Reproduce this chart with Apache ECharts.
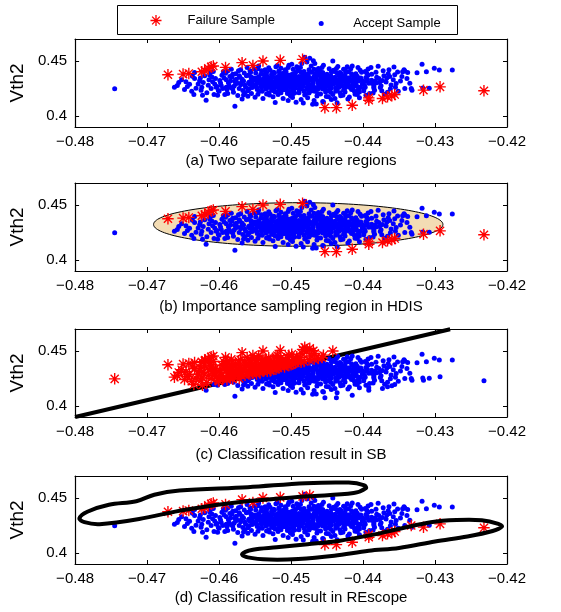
<!DOCTYPE html>
<html>
<head>
<meta charset="utf-8">
<script src="https://cdn.jsdelivr.net/npm/echarts@6/dist/echarts.min.js"></script>
<style>
html,body{margin:0;padding:0;background:#fff;}
#chart{width:561px;height:612px;}
</style>
</head>
<body>
<div id="chart"></div>
<script>
// ---------------- data ----------------
const panelTitles = [
  '(a) Two separate failure regions',
  '(b) Importance sampling region in HDIS',
  '(c) Classification result in SB',
  '(d) Classification result in REscope'
];
const yTickValues = [0.4, 0.45];
const xRange = [-0.48, -0.42];
const yRange = [0.39, 0.47];

const failureSamples = [
  [-0.4671,0.4375],[-0.4650,0.4381],[-0.4642,0.4387],[-0.4624,0.4402],[-0.4620,0.4412],
  [-0.4615,0.4433],[-0.4611,0.4448],[-0.4608,0.4454],[-0.4591,0.4442],[-0.4568,0.4485],
  [-0.4553,0.4460],[-0.4539,0.4500],[-0.4515,0.4506],[-0.4484,0.4515],
  [-0.4453,0.4076],[-0.4437,0.4076],[-0.4415,0.4098],[-0.4392,0.4143],[-0.4392,0.4165],
  [-0.4373,0.4159],[-0.4366,0.4174],[-0.4360,0.4183],[-0.4356,0.4195],[-0.4316,0.4235],
  [-0.4293,0.4265],[-0.4232,0.4229]
];

const acceptSamples = [
  [-0.4745,0.4247],
  [-0.4658,0.4277],[-0.4662,0.4262],[-0.4656,0.4305],
  [-0.4648,0.4241],[-0.4646,0.4311],[-0.4652,0.4330],[-0.4644,0.4268],
  [-0.4635,0.4195],[-0.4634,0.4341],[-0.4641,0.4288],[-0.4638,0.4225],[-0.4637,0.4362],
  [-0.4625,0.4235],[-0.4623,0.4189],[-0.4629,0.4290],[-0.4627,0.4320],[-0.4632,0.4252],[-0.4634,0.4395],[-0.4626,0.4345],
  [-0.4618,0.4143],[-0.4620,0.4365],[-0.4615,0.4280],[-0.4612,0.4395],[-0.4622,0.4305],[-0.4617,0.4212],[-0.4624,0.4262],[-0.4614,0.4330],[-0.4619,0.4418],
  [-0.4611,0.4250],[-0.4609,0.4311],[-0.4605,0.4340],[-0.4607,0.4195],[-0.4613,0.4372],[-0.4603,0.4268],[-0.4608,0.4405],[-0.4606,0.4290],[-0.4601,0.4232],[-0.4610,0.4355],
  [-0.4602,0.4189],[-0.4600,0.4225],[-0.4598,0.4300],[-0.4596,0.4370],[-0.4595,0.4250],[-0.4599,0.4322],[-0.4594,0.4405],[-0.4597,0.4278],[-0.4593,0.4345],[-0.4604,0.4262],[-0.4591,0.4388],
  [-0.4592,0.4195],[-0.4590,0.4330],[-0.4588,0.4410],[-0.4586,0.4275],[-0.4589,0.4238],[-0.4585,0.4358],[-0.4587,0.4302],[-0.4583,0.4425],[-0.4590,0.4262],[-0.4584,0.4318],[-0.4581,0.4380],[-0.4588,0.4205],
  [-0.4584,0.4259],[-0.4578,0.4088],[-0.4582,0.4355],[-0.4580,0.4215],[-0.4577,0.4385],[-0.4575,0.4300],[-0.4579,0.4272],[-0.4576,0.4335],[-0.4573,0.4412],[-0.4581,0.4245],[-0.4574,0.4186],[-0.4578,0.4318],[-0.4572,0.4365],[-0.4577,0.4290],
  [-0.4572,0.4250],[-0.4570,0.4420],[-0.4568,0.4335],[-0.4566,0.4190],[-0.4564,0.4280],[-0.4562,0.4365],[-0.4569,0.4305],[-0.4567,0.4232],[-0.4565,0.4392],[-0.4571,0.4352],[-0.4563,0.4262],[-0.4568,0.4155],[-0.4566,0.4318],[-0.4561,0.4440],[-0.4570,0.4285],[-0.4564,0.4212],
  [-0.4560,0.4230],[-0.4558,0.4310],[-0.4556,0.4400],[-0.4554,0.4260],[-0.4552,0.4345],[-0.4559,0.4372],[-0.4557,0.4288],[-0.4555,0.4205],[-0.4553,0.4325],[-0.4551,0.4430],[-0.4558,0.4248],[-0.4556,0.4358],[-0.4554,0.4298],[-0.4560,0.4180],[-0.4552,0.4272],[-0.4557,0.4412],[-0.4555,0.4338],[-0.4559,0.4302],
  [-0.4550,0.4170],[-0.4548,0.4290],[-0.4546,0.4430],[-0.4544,0.4225],[-0.4542,0.4380],[-0.4549,0.4325],[-0.4547,0.4255],[-0.4545,0.4355],[-0.4543,0.4302],[-0.4541,0.4412],[-0.4550,0.4270],[-0.4548,0.4345],[-0.4546,0.4198],[-0.4544,0.4318],[-0.4542,0.4282],[-0.4549,0.4392],[-0.4547,0.4240],[-0.4545,0.4455],[-0.4543,0.4335],[-0.4541,0.4262],
  [-0.4540,0.4320],[-0.4538,0.4270],[-0.4536,0.4410],[-0.4534,0.4200],[-0.4532,0.4350],[-0.4539,0.4295],[-0.4537,0.4372],[-0.4535,0.4245],[-0.4533,0.4315],[-0.4531,0.4438],[-0.4540,0.4225],[-0.4538,0.4340],[-0.4536,0.4285],[-0.4534,0.4395],[-0.4532,0.4258],[-0.4539,0.4160],[-0.4537,0.4328],[-0.4535,0.4305],[-0.4533,0.4362],[-0.4531,0.4212],[-0.4536,0.4420],[-0.4534,0.4275],
  [-0.4530,0.4300],[-0.4528,0.4345],[-0.4526,0.4232],[-0.4524,0.4398],[-0.4522,0.4122],[-0.4529,0.4275],[-0.4527,0.4380],[-0.4525,0.4312],[-0.4523,0.4255],[-0.4521,0.4448],[-0.4530,0.4190],[-0.4528,0.4325],[-0.4526,0.4362],[-0.4524,0.4288],[-0.4522,0.4218],[-0.4529,0.4415],[-0.4527,0.4242],[-0.4525,0.4352],[-0.4523,0.4298],[-0.4521,0.4335],[-0.4527,0.4268],[-0.4525,0.4175],[-0.4523,0.4392],[-0.4529,0.4318],
  [-0.4520,0.4305],[-0.4518,0.4258],[-0.4516,0.4372],[-0.4514,0.4212],[-0.4512,0.4340],[-0.4519,0.4288],[-0.4517,0.4410],[-0.4515,0.4322],[-0.4513,0.4245],[-0.4511,0.4385],[-0.4520,0.4352],[-0.4518,0.4195],[-0.4516,0.4298],[-0.4514,0.4435],[-0.4512,0.4272],[-0.4519,0.4330],[-0.4517,0.4228],[-0.4515,0.4362],[-0.4513,0.4312],[-0.4511,0.4160],[-0.4516,0.4395],[-0.4514,0.4282],[-0.4518,0.4345],[-0.4512,0.4238],[-0.4519,0.4458],[-0.4515,0.4265],
  [-0.4510,0.4315],[-0.4508,0.4248],[-0.4506,0.4378],[-0.4504,0.4290],[-0.4502,0.4222],[-0.4509,0.4355],[-0.4507,0.4405],[-0.4505,0.4268],[-0.4503,0.4335],[-0.4501,0.4185],[-0.4510,0.4390],[-0.4508,0.4302],[-0.4506,0.4232],[-0.4504,0.4442],[-0.4502,0.4325],[-0.4509,0.4275],[-0.4507,0.4345],[-0.4505,0.4205],[-0.4503,0.4368],[-0.4501,0.4258],[-0.4506,0.4312],[-0.4504,0.4142],[-0.4508,0.4420],[-0.4502,0.4285],[-0.4509,0.4240],[-0.4505,0.4330],[-0.4503,0.4462],
  [-0.4500,0.4298],[-0.4498,0.4352],[-0.4496,0.4245],[-0.4494,0.4392],[-0.4492,0.4318],[-0.4499,0.4272],[-0.4497,0.4425],[-0.4495,0.4210],[-0.4493,0.4340],[-0.4491,0.4285],[-0.4500,0.4375],[-0.4498,0.4168],[-0.4496,0.4305],[-0.4494,0.4255],[-0.4492,0.4448],[-0.4499,0.4328],[-0.4497,0.4232],[-0.4495,0.4362],[-0.4493,0.4292],[-0.4491,0.4408],[-0.4496,0.4268],[-0.4494,0.4312],[-0.4498,0.4195],[-0.4492,0.4345],[-0.4499,0.4470],[-0.4495,0.4282],[-0.4493,0.4125],[-0.4497,0.4385],
  [-0.4490,0.4332],[-0.4488,0.4262],[-0.4486,0.4398],[-0.4484,0.4305],[-0.4482,0.4225],[-0.4489,0.4358],[-0.4487,0.4440],[-0.4485,0.4280],[-0.4483,0.4345],[-0.4481,0.4190],[-0.4490,0.4415],[-0.4488,0.4318],[-0.4486,0.4248],[-0.4484,0.4375],[-0.4482,0.4295],[-0.4489,0.4212],[-0.4487,0.4338],[-0.4485,0.4478],[-0.4483,0.4268],[-0.4481,0.4362],[-0.4486,0.4150],[-0.4484,0.4325],[-0.4488,0.4290],[-0.4482,0.4405],[-0.4489,0.4240],[-0.4485,0.4312],[-0.4483,0.4118],[-0.4481,0.4534],
  [-0.4480,0.4310],[-0.4478,0.4255],[-0.4476,0.4385],[-0.4474,0.4524],[-0.4472,0.4228],[-0.4479,0.4348],[-0.4477,0.4292],[-0.4475,0.4420],[-0.4473,0.4270],[-0.4471,0.4335],[-0.4480,0.4198],[-0.4478,0.4368],[-0.4476,0.4318],[-0.4474,0.4245],[-0.4472,0.4455],[-0.4479,0.4302],[-0.4477,0.4165],[-0.4475,0.4352],[-0.4473,0.4282],[-0.4471,0.4398],[-0.4476,0.4235],[-0.4474,0.4328],[-0.4478,0.4492],[-0.4472,0.4262],[-0.4479,0.4375],[-0.4475,0.4210],[-0.4473,0.4342],[-0.4470,0.4107],
  [-0.4470,0.4298],[-0.4468,0.4362],[-0.4466,0.4242],[-0.4464,0.4410],[-0.4462,0.4315],[-0.4469,0.4268],[-0.4467,0.4478],[-0.4465,0.4335],[-0.4463,0.4205],[-0.4461,0.4380],[-0.4470,0.4288],[-0.4468,0.4140],[-0.4466,0.4345],[-0.4464,0.4258],[-0.4462,0.4432],[-0.4469,0.4322],[-0.4467,0.4225],[-0.4465,0.4392],[-0.4463,0.4302],[-0.4461,0.4278],[-0.4466,0.4355],[-0.4464,0.4182],[-0.4468,0.4425],[-0.4462,0.4248],[-0.4465,0.4110],[-0.4463,0.4368],[-0.4469,0.4502],
  [-0.4460,0.4325],[-0.4458,0.4262],[-0.4456,0.4395],[-0.4454,0.4300],[-0.4452,0.4218],[-0.4459,0.4358],[-0.4457,0.4440],[-0.4455,0.4282],[-0.4453,0.4340],[-0.4451,0.4178],[-0.4460,0.4412],[-0.4458,0.4312],[-0.4456,0.4245],[-0.4454,0.4375],[-0.4452,0.4292],[-0.4459,0.4200],[-0.4457,0.4335],[-0.4455,0.4462],[-0.4453,0.4268],[-0.4451,0.4352],[-0.4456,0.4132],[-0.4454,0.4320],[-0.4458,0.4385],[-0.4452,0.4238],[-0.4459,0.4278],[-0.4455,0.4128],
  [-0.4450,0.4305],[-0.4448,0.4358],[-0.4446,0.4240],[-0.4444,0.4402],[-0.4442,0.4322],[-0.4449,0.4270],[-0.4447,0.4430],[-0.4445,0.4215],[-0.4443,0.4345],[-0.4441,0.4288],[-0.4450,0.4380],[-0.4448,0.4175],[-0.4446,0.4312],[-0.4444,0.4255],[-0.4442,0.4500],[-0.4449,0.4335],[-0.4447,0.4230],[-0.4445,0.4368],[-0.4443,0.4298],[-0.4441,0.4415],[-0.4446,0.4262],[-0.4444,0.4150],[-0.4448,0.4325],[-0.4442,0.4195],[-0.4445,0.4282],
  [-0.4440,0.4318],[-0.4438,0.4255],[-0.4436,0.4390],[-0.4434,0.4295],[-0.4432,0.4212],[-0.4439,0.4352],[-0.4437,0.4432],[-0.4435,0.4275],[-0.4433,0.4338],[-0.4431,0.4185],[-0.4440,0.4405],[-0.4438,0.4305],[-0.4436,0.4238],[-0.4434,0.4372],[-0.4432,0.4285],[-0.4439,0.4160],[-0.4437,0.4328],[-0.4435,0.4450],[-0.4433,0.4262],[-0.4431,0.4360],[-0.4436,0.4120],[-0.4434,0.4315],[-0.4438,0.4225],[-0.4432,0.4395],
  [-0.4430,0.4302],[-0.4428,0.4352],[-0.4426,0.4245],[-0.4424,0.4408],[-0.4422,0.4325],[-0.4429,0.4275],[-0.4427,0.4425],[-0.4425,0.4218],[-0.4423,0.4345],[-0.4421,0.4290],[-0.4430,0.4382],[-0.4428,0.4188],[-0.4426,0.4315],[-0.4424,0.4262],[-0.4422,0.4448],[-0.4429,0.4338],[-0.4427,0.4235],[-0.4425,0.4365],[-0.4423,0.4298],[-0.4421,0.4155],[-0.4426,0.4278],[-0.4424,0.4395],
  [-0.4420,0.4312],[-0.4418,0.4258],[-0.4416,0.4385],[-0.4414,0.4298],[-0.4412,0.4225],[-0.4419,0.4348],[-0.4417,0.4430],[-0.4415,0.4278],[-0.4413,0.4335],[-0.4411,0.4198],[-0.4420,0.4402],[-0.4418,0.4320],[-0.4416,0.4242],[-0.4414,0.4368],[-0.4412,0.4285],[-0.4419,0.4172],[-0.4417,0.4330],[-0.4415,0.4455],[-0.4413,0.4265],[-0.4411,0.4358],
  [-0.4410,0.4305],[-0.4408,0.4362],[-0.4406,0.4250],[-0.4404,0.4415],[-0.4402,0.4325],[-0.4409,0.4275],[-0.4407,0.4440],[-0.4405,0.4218],[-0.4403,0.4345],[-0.4401,0.4290],[-0.4410,0.4385],[-0.4408,0.4195],[-0.4406,0.4318],[-0.4404,0.4262],[-0.4402,0.4398],[-0.4409,0.4338],[-0.4407,0.4235],[-0.4405,0.4165],
  [-0.4400,0.4315],[-0.4397,0.4262],[-0.4395,0.4392],[-0.4392,0.4298],[-0.4399,0.4230],[-0.4396,0.4350],[-0.4393,0.4428],[-0.4398,0.4280],[-0.4394,0.4335],[-0.4391,0.4205],[-0.4397,0.4405],[-0.4395,0.4318],[-0.4399,0.4248],[-0.4393,0.4372],[-0.4396,0.4188],
  [-0.4388,0.4325],[-0.4385,0.4268],[-0.4382,0.4398],[-0.4387,0.4295],[-0.4384,0.4235],[-0.4381,0.4352],[-0.4389,0.4440],[-0.4386,0.4210],[-0.4383,0.4318],[-0.4388,0.4380],[-0.4385,0.4255],[-0.4382,0.4300],
  [-0.4378,0.4340],[-0.4375,0.4275],[-0.4372,0.4412],[-0.4377,0.4305],[-0.4374,0.4230],[-0.4371,0.4365],[-0.4379,0.4452],[-0.4376,0.4258],[-0.4373,0.4322],[-0.4370,0.4198],
  [-0.4368,0.4310],[-0.4365,0.4385],[-0.4362,0.4248],[-0.4367,0.4345],[-0.4364,0.4420],[-0.4361,0.4282],[-0.4366,0.4215],[-0.4363,0.4360],
  [-0.4358,0.4330],[-0.4355,0.4262],[-0.4352,0.4400],[-0.4357,0.4445],[-0.4354,0.4295],[-0.4351,0.4225],[-0.4356,0.4375],
  [-0.4348,0.4318],[-0.4345,0.4402],[-0.4342,0.4250],[-0.4346,0.4358],[-0.4343,0.4420],
  [-0.4338,0.4395],[-0.4342,0.4410],[-0.4335,0.4298],[-0.4339,0.4340],
  [-0.4333,0.4250],[-0.4332,0.4235],[-0.4325,0.4393],
  [-0.4318,0.4470],[-0.4317,0.4255],[-0.4312,0.4402],
  [-0.4308,0.4253],[-0.4301,0.4433],
  [-0.4294,0.4418],
  [-0.4276,0.4418]
];

// samples that REscope additionally flags as failures (panel d)
const rescopeExtraFailures = [[-0.4474,0.4524],[-0.4333,0.4250]];

// SB linear classifier boundary (panel c)
const sbLine = [[-0.4800,0.3900],[-0.4279,0.4698]];

// HDIS importance-sampling ellipse (panel b)
const hdisCenter = [-0.4490, 0.4323];
const hdisRadii = [0.0201, 0.0198];

// REscope classification boundaries (panel d)
const rescopeUpper = [
  [-0.4794,0.4315],[-0.4783,0.4375],[-0.4753,0.4438],[-0.4715,0.4470],[-0.4690,0.4530],
  [-0.4655,0.4568],[-0.4560,0.4598],[-0.4480,0.4635],[-0.4420,0.4640],[-0.4398,0.4615],
  [-0.4396,0.4590],[-0.4413,0.4545],[-0.4477,0.4515],[-0.4562,0.4470],[-0.4647,0.4394],
  [-0.4711,0.4309],[-0.4766,0.4262],[-0.4787,0.4280]
];
const rescopeLower = [
  [-0.4568,0.3990],[-0.4553,0.4030],[-0.4520,0.4052],[-0.4477,0.4080],[-0.4434,0.4110],
  [-0.4391,0.4160],[-0.4349,0.4220],[-0.4306,0.4280],[-0.4270,0.4300],[-0.4235,0.4298],
  [-0.4212,0.4265],[-0.4207,0.4240],[-0.4220,0.4200],[-0.4255,0.4150],[-0.4300,0.4105],
  [-0.4350,0.4045],[-0.4392,0.4020],[-0.4440,0.3975],[-0.4490,0.3945],[-0.4530,0.3940],
  [-0.4560,0.3960]
];

// ---------------- derived sets ----------------
const same = (p, q) => p[0] === q[0] && p[1] === q[1];
const allSamples = acceptSamples.concat(failureSamples);
const sbY = x => sbLine[0][1] + (x - sbLine[0][0]) * (sbLine[1][1] - sbLine[0][1]) / (sbLine[1][0] - sbLine[0][0]);
const sbFailure = allSamples.filter(p => p[1] > sbY(p[0]));
const sbAccept = allSamples.filter(p => p[1] <= sbY(p[0]));
const rsAccept = acceptSamples.filter(p => !rescopeExtraFailures.some(q => same(p, q)));
const rsFailure = failureSamples.concat(rescopeExtraFailures);

// ---------------- chart ----------------
const FONT = '"Liberation Sans", Arial, Helvetica, sans-serif';
const STAR = 'path://M0 8.8L20 8.8L20 11.2L0 11.2Z M8.8 0L11.2 0L11.2 20L8.8 20Z M2.08 3.78L3.78 2.08L17.92 16.22L16.22 17.92Z M16.22 2.08L17.92 3.78L3.78 17.92L2.08 16.22Z';
const tops = [39, 183, 329, 476];
const nameGaps = [26, 28, 30, 26];

const grids = tops.map(t => ({left: 69, top: t, width: 438, height: 88, show: false}));
const xAxes = [], yAxes = [];
const fmtX = v => (v < 0 ? '\u2212' : '') + Math.abs(v).toFixed(2);
const fmtY = v => String(+(+v).toFixed(2));
const axisLineStyle = {show: true, onZero: false, lineStyle: {color: '#000', width: 1.2}};
tops.forEach((t, i) => {
  xAxes.push({
    type: 'value', gridIndex: i, min: xRange[0], max: xRange[1], interval: 0.01, position: 'bottom',
    axisLine: axisLineStyle, axisTick: {show: true, inside: true, length: 4, lineStyle: {color: '#000'}},
    axisLabel: {formatter: fmtX, color: '#000', fontSize: 15, fontFamily: FONT, margin: 7, showMinLabel: true, showMaxLabel: true},
    splitLine: {show: false},
    name: panelTitles[i], nameLocation: 'middle', nameGap: nameGaps[i],
    nameTextStyle: {color: '#000', fontSize: 15, fontFamily: FONT}
  });
  xAxes.push({
    type: 'value', gridIndex: i, min: xRange[0], max: xRange[1], interval: 0.01, position: 'top',
    axisLine: axisLineStyle, axisTick: {show: true, inside: true, length: 4, lineStyle: {color: '#000'}},
    axisLabel: {show: false}, splitLine: {show: false}
  });
  yAxes.push({
    type: 'value', gridIndex: i, min: yRange[0], max: yRange[1], position: 'left',
    axisLine: axisLineStyle,
    axisTick: {show: true, inside: true, length: 4, lineStyle: {color: '#000'}, customValues: yTickValues},
    axisLabel: {formatter: fmtY, color: '#000', fontSize: 15, fontFamily: FONT, margin: 8, customValues: yTickValues},
    splitLine: {show: false},
    name: 'Vth2', nameLocation: 'middle', nameGap: 41, nameRotate: 90,
    nameTextStyle: {color: '#000', fontSize: 19, fontFamily: FONT}
  });
  yAxes.push({
    type: 'value', gridIndex: i, min: yRange[0], max: yRange[1], position: 'right',
    axisLine: axisLineStyle,
    axisTick: {show: true, inside: true, length: 4, lineStyle: {color: '#000'}, customValues: yTickValues},
    axisLabel: {show: false}, splitLine: {show: false}
  });
});

function scatter(name, data, g, isFail) {
  return {
    type: 'scatter', name: name, xAxisIndex: g * 2, yAxisIndex: g * 2, data: data,
    symbol: isFail ? STAR : 'circle', symbolSize: isFail ? 11.5 : 5,
    itemStyle: {color: isFail ? '#ff0000' : '#0000ff', opacity: 1},
    silent: true, z: isFail ? 4 : 3, animation: false
  };
}

const series = [];
// (a)
series.push(scatter('Accept Sample', acceptSamples, 0, false));
series.push(scatter('Failure Sample', failureSamples, 0, true));
// (b)
series.push({
  type: 'custom', xAxisIndex: 2, yAxisIndex: 2, data: [hdisCenter], silent: true, z: 1,
  renderItem: function (params, api) {
    const pts = [];
    for (let k = 0; k < 160; k++) {
      const t = k / 160 * Math.PI * 2;
      pts.push(api.coord([hdisCenter[0] + hdisRadii[0] * Math.cos(t), hdisCenter[1] + hdisRadii[1] * Math.sin(t)]));
    }
    return {type: 'polygon', shape: {points: pts}, style: {fill: '#f3dcb4', stroke: '#000', lineWidth: 1}};
  }
});
series.push(scatter('Accept Sample', acceptSamples, 1, false));
series.push(scatter('Failure Sample', failureSamples, 1, true));
// (c)
series.push({
  type: 'line', xAxisIndex: 4, yAxisIndex: 4, data: sbLine, symbol: 'none', silent: true, z: 1,
  lineStyle: {color: '#000', width: 4}, animation: false
});
series.push(scatter('Accept Sample', sbAccept, 2, false));
series.push(scatter('Failure Sample', sbFailure, 2, true));
// (d)
series.push(scatter('Accept Sample', rsAccept, 3, false));
series.push(scatter('Failure Sample', rsFailure, 3, true));
const contours = [rescopeUpper, rescopeLower];
series.push({
  type: 'custom', xAxisIndex: 6, yAxisIndex: 6, data: contours.map(c => c[0]), silent: true, z: 6,
  renderItem: function (params, api) {
    const c = contours[params.dataIndex];
    return {type: 'polygon', shape: {points: c.map(p => api.coord(p)), smooth: 0.35},
      style: {fill: 'none', stroke: '#000', lineWidth: 4}};
  }
});

const chart = echarts.init(document.getElementById('chart'), null, {renderer: 'canvas'});
chart.setOption({
  animation: false,
  backgroundColor: '#fff',
  grid: grids,
  xAxis: xAxes,
  yAxis: yAxes,
  graphic: [{
    type: 'rect', left: 117, top: 5, z: -1, silent: true,
    shape: {width: 340, height: 29}, style: {fill: '#fff', stroke: '#000', lineWidth: 1}
  }],
  legend: [
    {data: [{name: 'Failure Sample', icon: STAR}], left: 150.5, top: 14, padding: 0,
     itemWidth: 53, itemHeight: 11, selectedMode: false,
     textStyle: {color: '#000', fontSize: 13, fontFamily: FONT}},
    {data: [{name: 'Accept Sample', icon: 'circle'}], left: 318.7, top: 17, padding: 0,
     itemWidth: 54, itemHeight: 5, selectedMode: false,
     textStyle: {color: '#000', fontSize: 13, fontFamily: FONT}}
  ],
  series: series
});
</script>
</body>
</html>
